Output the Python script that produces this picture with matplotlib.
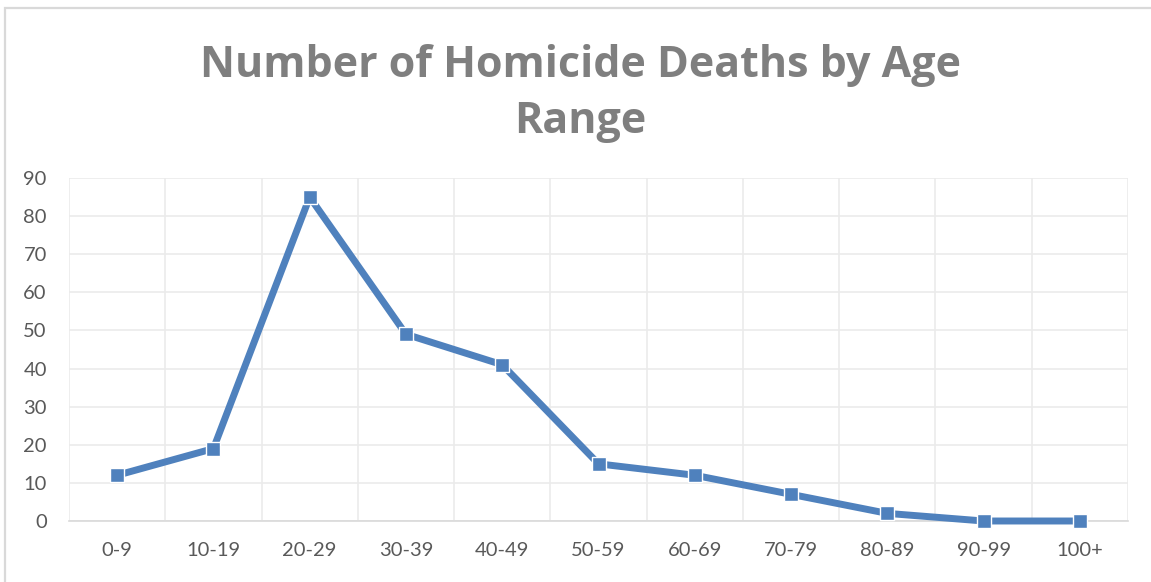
import matplotlib
matplotlib.use("Agg")
import matplotlib.pyplot as plt
from matplotlib.patches import Rectangle
from matplotlib.ticker import FixedLocator

categories = ["0-9", "10-19", "20-29", "30-39", "40-49", "50-59",
              "60-69", "70-79", "80-89", "90-99", "100+"]
deaths = [12, 19, 85, 49, 41, 15, 12, 7, 2, 0, 0]
yticks = [0, 10, 20, 30, 40, 50, 60, 70, 80, 90]
title = "Number of Homicide Deaths by Age\nRange"

W, H = 1151, 582
fig = plt.figure(figsize=(W / 100, H / 100), dpi=100)
fig.patch.set_facecolor("white")

# chart frame
fig.patches.append(Rectangle((5 / W, -0.1), 1.2, 1 - 7.5 / H + 0.1,
                             transform=fig.transFigure, fill=False,
                             edgecolor="#D9D9D9", linewidth=1.6))

ax = fig.add_axes([69 / W, 1 - 521 / H, (1128 - 69) / W, (521 - 178) / H])
x = list(range(len(categories)))
ax.plot(x, deaths, color="#4F81BD", linewidth=5, marker="s", markersize=10,
        markerfacecolor="#4F81BD", markeredgecolor="white", markeredgewidth=1,
        solid_joinstyle="round", zorder=3, clip_on=False)

ax.set_xlim(-0.5, len(categories) - 0.5)
ax.set_ylim(0, 90)
ax.set_yticks(yticks)
ax.set_xticks(x)
ax.set_xticklabels(categories)
ax.xaxis.set_minor_locator(FixedLocator([i + 0.5 for i in range(-1, len(categories))]))
ax.grid(True, which="minor", axis="x", color="#EBEBEB", linewidth=1.2)
ax.grid(True, which="major", axis="y", color="#EBEBEB", linewidth=1.2)
ax.set_axisbelow(True)
for s in ["top", "right", "left"]:
    ax.spines[s].set_visible(False)
ax.spines["bottom"].set_color("#D9D9D9")
ax.spines["bottom"].set_linewidth(1.2)
ax.tick_params(axis="both", which="both", length=0, labelsize=14.5,
               labelcolor="#595959")
ax.tick_params(axis="y", pad=16)
ax.tick_params(axis="x", pad=15)
for lab in ax.get_xticklabels() + ax.get_yticklabels():
    lab.set_family(["Lato", "DejaVu Sans"])

fig.text(0.504, 1 - 133 / H, title, ha="center", va="baseline",
         fontsize=31, fontweight="bold", color="#7F7F7F",
         family=["Open Sans", "DejaVu Sans"], linespacing=1.4)

fig.savefig("out.png", dpi=100, facecolor="white")
